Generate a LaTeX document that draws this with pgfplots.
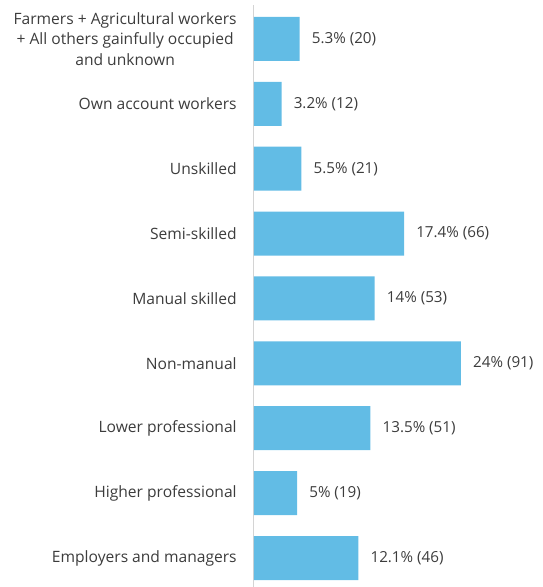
\documentclass[border=0pt]{standalone}
\usepackage{pgfplots}
\pgfplotsset{compat=1.18}
\usepackage{fontspec}
\setmainfont{Open Sans}
\definecolor{barblue}{HTML}{62BCE5}
\definecolor{txt}{HTML}{3C3C3C}
\definecolor{axgray}{HTML}{D4D4D4}
\begin{document}
\begin{tikzpicture}[x=1pt,y=1pt]
\useasboundingbox (-254,0) rectangle (288,587);
\begin{axis}[
  at={(0,0)}, anchor=south west,
  scale only axis, width=207pt, height=582pt,
  xmin=0, xmax=24, ymin=-0.447, ymax=8.524,
  xbar, bar width=44pt,
  axis x line=none, axis y line=left,
  y axis line style={-, draw=axgray, line width=1pt},
  ytick={0,...,8},
  ytick style={draw=none},
  yticklabels={Employers and managers, Higher professional, Lower professional, Non-manual, Manual skilled, Semi-skilled, Unskilled, Own account workers, {Farmers + Agricultural workers\\+ All others gainfully occupied\\and unknown}},
  yticklabel style={font=\fontsize{15.6}{20.5}\selectfont, text=txt, align=center, inner sep=0pt, xshift=-15pt},
  point meta=explicit symbolic,
  nodes near coords,
  nodes near coords style={font=\fontsize{15.2}{17}\selectfont, text=txt, anchor=west, inner sep=0pt, xshift=12pt},
  clip=false,
]
\addplot[fill=barblue, draw=none] coordinates {
  (12.1,0) [12.1\% (46)]
  (5,1) [5\% (19)]
  (13.5,2) [13.5\% (51)]
  (24,3) [24\% (91)]
  (14,4) [14\% (53)]
  (17.4,5) [17.4\% (66)]
  (5.5,6) [5.5\% (21)]
  (3.2,7) [3.2\% (12)]
  (5.3,8) [5.3\% (20)]
};
\end{axis}
\end{tikzpicture}
\end{document}
